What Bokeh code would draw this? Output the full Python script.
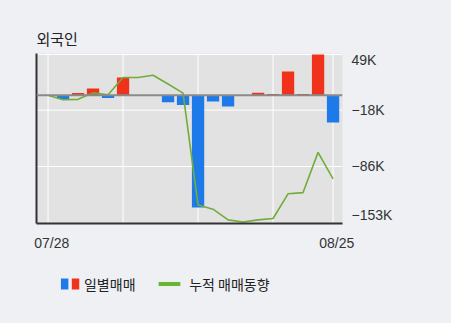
from bokeh.plotting import figure
from bokeh.models import ColumnDataSource, Range1d, FixedTicker, LinearAxis, Span
from bokeh.layouts import column
from bokeh.embed import file_html
from bokeh.resources import INLINE
from bokeh.core.properties import value

# ---- data (values in thousands of shares) ----
dates = ["07/28", "07/29", "07/30", "07/31", "08/03", "08/04", "08/05", "08/06",
         "08/07", "08/10", "08/11", "08/12", "08/13", "08/14", "08/18", "08/19",
         "08/20", "08/21", "08/24", "08/25"]
daily = [0, -4.6, 2.6, 8.2, -3.4, 21.4, 0, 0, -8.5, -11.8,
         -135.5, -7.5, -13.5, 0, 3.0, 1.5, 28.5, 1.5, 49.0, -33.0]
cumulative = [0, -5.5, -5.0, 2.8, 0.5, 21.4, 21.4, 24.0, 13.5, 2.5,
              -132.4, -137.5, -150.4, -153.0, -150.4, -148.8, -119.0, -117.5, -69.0, -101.0]
y_tick_values = [49, -18, -86, -153]
y_tick_labels = ["49K", "\u221218K", "\u221286K", "\u2212153K"]
x_tick_index = [0, len(dates) - 1]
x_grid_index = [0, 5, 10, 15, 19]

BG = "#eef0f4"
FRAME = "#e2e2e2"
BLUE = "#1f7ae9"
RED = "#f0321c"
GREEN_LINE = "#6fae3a"
GREEN_LEG = "#66b82e"
KFONT = "Noto Sans CJK KR"
NFONT = "Liberation Sans"

idx = list(range(len(dates)))
neg = ColumnDataSource(dict(x=[i for i in idx if daily[i] < 0], top=[v for v in daily if v < 0]))
pos = ColumnDataSource(dict(x=[i for i in idx if daily[i] > 0], top=[v for v in daily if v > 0]))
line_src = ColumnDataSource(dict(x=idx, y=cumulative))

p = figure(width=451, height=262,
           x_range=Range1d(-0.77, len(dates) - 1 + 0.63),
           y_range=Range1d(-154.8, 50.3),
           output_backend="svg", toolbar_location=None,
           x_axis_location=None, y_axis_location=None,
           min_border_left=36, min_border_right=109,
           min_border_top=53, min_border_bottom=39)
p.grid.visible = False
p.background_fill_color = FRAME
p.border_fill_color = BG
p.outline_line_color = None

# grid lines
for gx in x_grid_index:
    p.add_layout(Span(location=gx, dimension="height", line_color="white",
                      line_width=1, level="underlay"))
for gy in y_tick_values[:3]:
    p.add_layout(Span(location=gy, dimension="width", line_color="white",
                      line_width=1, level="underlay"))

p.vbar(x="x", top="top", bottom=0, width=0.82, source=neg, fill_color=BLUE, line_color=None)
p.vbar(x="x", top="top", bottom=0, width=0.82, source=pos, fill_color=RED, line_color=None)
p.add_layout(Span(location=0, dimension="width", line_color="#8a8a8a", line_width=2))
p.line(x="x", y="y", source=line_src, line_color=GREEN_LINE, line_width=1.6)

# axes
left = LinearAxis(ticker=FixedTicker(ticks=[]), axis_line_color="#333333", axis_line_width=2,
                  major_tick_line_color=None, minor_tick_line_color=None,
                  major_label_text_font_size="0px")
p.add_layout(left, "left")

label_pos = list(y_tick_values)
label_pos[0] -= 6
label_pos[-1] += 9
right = LinearAxis(ticker=FixedTicker(ticks=label_pos),
                   major_label_overrides={lp: t for lp, t in zip(label_pos, y_tick_labels)},
                   axis_line_color=None, major_tick_line_color=None, minor_tick_line_color=None,
                   major_tick_in=0, major_tick_out=0,
                   major_label_standoff=9, major_label_text_font=NFONT,
                   major_label_text_font_size="14px", major_label_text_color="#333333")
p.add_layout(right, "right")

x_label_pos = [i + 0.25 for i in x_tick_index]
bottom = LinearAxis(ticker=FixedTicker(ticks=x_label_pos),
                    major_label_overrides={lp: dates[i] for lp, i in zip(x_label_pos, x_tick_index)},
                    axis_line_color="#333333", axis_line_width=2,
                    major_tick_line_color=None, minor_tick_line_color=None,
                    major_tick_in=0, major_tick_out=0,
                    major_label_standoff=11, major_label_text_font=NFONT,
                    major_label_text_font_size="14px", major_label_text_color="#333333")
p.add_layout(bottom, "below")

p.title.text = "외국인"
p.title.text_font = KFONT
p.title.text_font_size = "15px"
p.title.text_font_style = "normal"
p.title.text_color = "#222222"
p.title.align = "left"
p.title.standoff = 9

# legend strip
lg = figure(width=451, height=61, x_range=Range1d(0, 451), y_range=Range1d(0, 61),
            output_backend="svg", toolbar_location=None,
            x_axis_location=None, y_axis_location=None, min_border=0)
lg.grid.visible = False
lg.outline_line_color = None
lg.background_fill_color = BG
lg.border_fill_color = BG
cy = 39.5
lg.quad(left=[36], right=[47], bottom=[cy - 5.5], top=[cy + 5.5], fill_color=BLUE, line_color=None)
lg.quad(left=[52], right=[63], bottom=[cy - 5.5], top=[cy + 5.5], fill_color=RED, line_color=None)
lg.text(x=[70], y=[cy], text=["일별매매"], text_font=value(KFONT), text_font_size="14px",
        text_baseline="middle", text_color="#222222")
lg.line(x=[180, 212], y=[cy, cy], line_color=GREEN_LEG, line_width=4)
lg.text(x=[225], y=[cy], text=["누적 매매동향"], text_font=value(KFONT), text_font_size="14px",
        text_baseline="middle", text_color="#222222")

layout = column(p, lg, spacing=0, styles={"background-color": BG})
open("out.html", "w").write(file_html(layout, INLINE))
